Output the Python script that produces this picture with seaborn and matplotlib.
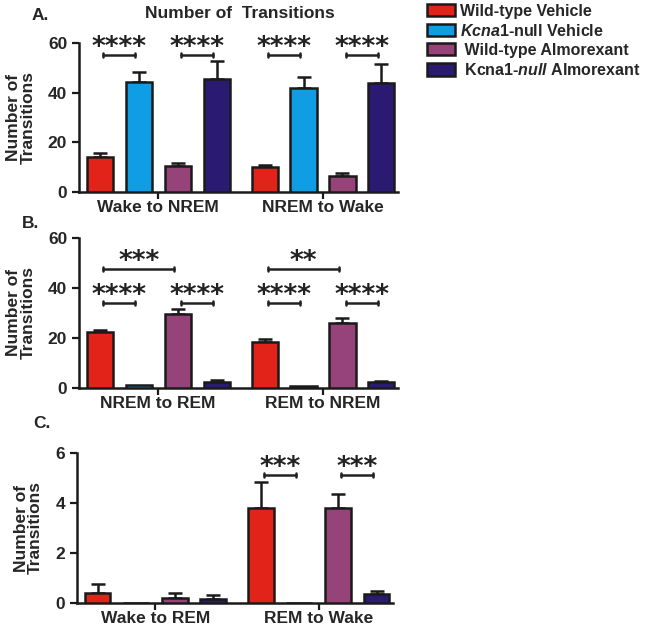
import numpy as np
import pandas as pd
import matplotlib
matplotlib.use("Agg")
import matplotlib.pyplot as plt
import matplotlib.patches as mpatches
import seaborn as sns

# --- data (mean, SEM) ---
groups = ["Wild-type Vehicle", "Kcna1-null Vehicle", "Wild-type Almorexant", "Kcna1-null Almorexant"]
legend_labels = ["Wild-type Vehicle", r"$\mathit{Kcna1}$-null Vehicle",
                 " Wild-type Almorexant", r" Kcna1-$\mathit{null}$ Almorexant"]
colors = ["#E2231A", "#0F9DE3", "#954379", "#2B1A72"]

a_cats = ["Wake to NREM", "NREM to Wake"]
a_mean = [[14.1, 10.1], [44.3, 41.9], [10.5, 6.3], [45.5, 43.9]]
a_sem = [[1.5, 0.9], [4.0, 4.3], [1.2, 1.2], [7.3, 7.6]]

b_cats = ["NREM to REM", "REM to NREM"]
b_mean = [[22.5, 18.5], [1.2, 1.0], [29.6, 26.0], [2.5, 2.3]]
b_sem = [[0.8, 1.0], [0.0, 0.0], [2.0, 2.0], [0.7, 0.7]]

c_cats = ["Wake to REM", "REM to Wake"]
c_mean = [[0.39, 3.79], [0.0, 0.0], [0.19, 3.79], [0.16, 0.35]]
c_sem = [[0.37, 1.04], [0.0, 0.0], [0.2, 0.57], [0.15, 0.14]]

# significance: (x category, hue i, hue j, bracket height, label)
a_sig = [(0, 0, 1, 55.2, "****"), (0, 2, 3, 55.2, "****"),
         (1, 0, 1, 55.2, "****"), (1, 2, 3, 55.2, "****")]
b_sig = [(0, 0, 1, 34.1, "****"), (0, 2, 3, 34.1, "****"),
         (1, 0, 1, 34.1, "****"), (1, 2, 3, 34.1, "****"),
         (0, 0, 2, 47.5, "***"), (1, 0, 2, 47.5, "**")]
c_sig = [(1, 0, 1, 5.12, "***"), (1, 2, 3, 5.12, "***")]

sns.set_style("ticks")
plt.rcParams["font.family"] = ["Liberation Sans", "DejaVu Sans"]
plt.rcParams["font.weight"] = "bold"
plt.rcParams["mathtext.fontset"] = "custom"
plt.rcParams["mathtext.it"] = "Liberation Sans:italic:bold"
plt.rcParams["mathtext.rm"] = "Liberation Sans:bold"

fig = plt.figure(figsize=(6.56, 6.26), dpi=100)
W, H = 656, 626


def ax_at(l, r, top, bot):
    return fig.add_axes([l / W, 1 - bot / H, (r - l) / W, (bot - top) / H])


def panel(ax, cats, means, sems, ymax, yticks, sigs, star_size):
    rows = []
    for g, m in zip(groups, means):
        for c, v in zip(cats, m):
            rows.append({"transition": c, "group": g, "value": v})
    df = pd.DataFrame(rows)
    sns.barplot(data=df, x="transition", y="value", hue="group", hue_order=groups,
                order=cats, palette=colors, saturation=1, width=0.945, gap=0.33,
                errorbar=None, edgecolor="#1a1a1a", linewidth=1.8, legend=False,
                ax=ax, zorder=3)
    centers = []
    for h, cont in enumerate(list(ax.containers)):
        xs = [p.get_x() + p.get_width() / 2 for p in cont.patches]
        centers.append(xs)
        tops = np.array(means[h])
        err = np.array(sems[h])
        keep = err > 0
        ax.errorbar(np.array(xs)[keep], tops[keep], yerr=[np.zeros(keep.sum()), err[keep]],
                    fmt="none", ecolor="#1a1a1a", elinewidth=1.8, capsize=5, capthick=1.8, zorder=2)
    ax.set_xlim(-0.48, 1.455)
    ax.set_ylim(0, ymax)
    ax.set_yticks(yticks)
    ax.set_xlabel("")
    ax.set_ylabel("Number of\nTransitions", fontsize=12.5, fontweight="bold", labelpad=9,
                  linespacing=0.95)
    ax.tick_params(axis="both", labelsize=12.5, width=1.6, length=5, color="#1a1a1a")
    for lab in ax.get_xticklabels() + ax.get_yticklabels():
        lab.set_fontweight("bold")
    ax.tick_params(axis="x", pad=1)
    for s in ["left", "bottom"]:
        ax.spines[s].set_linewidth(1.8)
        ax.spines[s].set_color("#1a1a1a")
    sns.despine(ax=ax)
    for xi, i, j, y, lab in sigs:
        x1 = centers[i][xi] + 0.02
        x2 = centers[j][xi] - 0.02
        d = ymax * 0.012
        ax.plot([x1, x2], [y, y], color="#222222", lw=1.8, clip_on=False)
        ax.plot([x1, x1], [y - d, y + d], color="#222222", lw=1.8, clip_on=False)
        ax.plot([x2, x2], [y - d, y + d], color="#222222", lw=1.8, clip_on=False)
        ax.annotate(lab, xy=((x1 + x2) / 2, y), xytext=(0, 0), textcoords="offset points",
                    ha="center", va="baseline", fontsize=star_size, family="DejaVu Sans",
                    fontweight="bold", color="#222222", annotation_clip=False)


ax_a = ax_at(79, 398, 43, 192)
panel(ax_a, a_cats, a_mean, a_sem, 60, [0, 20, 40, 60], a_sig, 19)
ax_b = ax_at(79, 398, 238, 388)
panel(ax_b, b_cats, b_mean, b_sem, 60, [0, 20, 40, 60], b_sig, 19)
ax_c = ax_at(77, 393, 453, 603)
panel(ax_c, c_cats, c_mean, c_sem, 6, [0, 2, 4, 6], c_sig, 19)

fig.text(32 / W, 1 - 15 / H, "A.", fontsize=12.5, fontweight="bold", ha="left", va="center")
fig.text(240 / W, 1 - 14 / H, "Number of  Transitions", fontsize=12.5, fontweight="bold",
         ha="center", va="center")
fig.text(22 / W, 1 - 223 / H, "B.", fontsize=12.5, fontweight="bold", ha="left", va="center")
fig.text(33 / W, 1 - 424 / H, "C.", fontsize=12.5, fontweight="bold", ha="left", va="center")

handles = [mpatches.Patch(facecolor=c, edgecolor="#1a1a1a", linewidth=1.8) for c in colors]
fig.legend(handles, legend_labels, loc="upper left", bbox_to_anchor=(417 / W, 1 + 6 / H),
           frameon=False, fontsize=11.5, handlelength=1.8, handleheight=0.8,
           handletextpad=0.3, labelspacing=0.26, borderaxespad=0.2)

fig.savefig("out.png", dpi=100, facecolor="white")
